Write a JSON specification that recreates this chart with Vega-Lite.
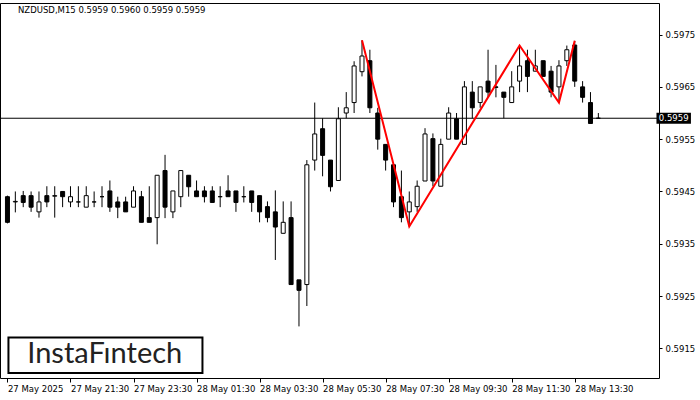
{
  "$schema": "https://vega.github.io/schema/vega-lite/v6.json",
  "width": 659,
  "height": 375,
  "autosize": {"type": "none"},
  "padding": {"left": 0, "top": 3, "right": 41, "bottom": 22},
  "background": "white",
  "config": {"view": {"stroke": "black", "strokeWidth": 1}, "font": "DejaVu Sans"},
  "title": {"text": "NZDUSD,M15  0.5959 0.5960 0.5959 0.5959", "anchor": "start", "frame": "group", "dx": 18, "offset": -11, "baseline": "top", "fontSize": 8.5, "fontWeight": "normal", "font": "DejaVu Sans", "color": "#000000"},
  "datasets": {
    "candles": [
      {"i":0,"o":0.59440,"h":0.59442,"l":0.59389,"c":0.59391},
      {"i":1,"o":0.59430,"h":0.59450,"l":0.59410,"c":0.59431},
      {"i":2,"o":0.59442,"h":0.59451,"l":0.59420,"c":0.59429},
      {"i":3,"o":0.59442,"h":0.59450,"l":0.59411,"c":0.59420},
      {"i":4,"o":0.59411,"h":0.59450,"l":0.59400,"c":0.59430},
      {"i":5,"o":0.59442,"h":0.59460,"l":0.59420,"c":0.59430},
      {"i":6,"o":0.59441,"h":0.59460,"l":0.59400,"c":0.59442},
      {"i":7,"o":0.59450,"h":0.59450,"l":0.59420,"c":0.59440},
      {"i":8,"o":0.59430,"h":0.59460,"l":0.59420,"c":0.59440},
      {"i":9,"o":0.59430,"h":0.59460,"l":0.59420,"c":0.59430},
      {"i":10,"o":0.59420,"h":0.59460,"l":0.59420,"c":0.59442},
      {"i":11,"o":0.59430,"h":0.59450,"l":0.59420,"c":0.59430},
      {"i":12,"o":0.59440,"h":0.59460,"l":0.59420,"c":0.59440},
      {"i":13,"o":0.59451,"h":0.59471,"l":0.59411,"c":0.59420},
      {"i":14,"o":0.59430,"h":0.59440,"l":0.59399,"c":0.59420},
      {"i":15,"o":0.59430,"h":0.59440,"l":0.59411,"c":0.59411},
      {"i":16,"o":0.59420,"h":0.59460,"l":0.59420,"c":0.59451},
      {"i":17,"o":0.59440,"h":0.59451,"l":0.59391,"c":0.59391},
      {"i":18,"o":0.59400,"h":0.59460,"l":0.59391,"c":0.59391},
      {"i":19,"o":0.59400,"h":0.59481,"l":0.59349,"c":0.59481},
      {"i":20,"o":0.59490,"h":0.59520,"l":0.59399,"c":0.59420},
      {"i":21,"o":0.59411,"h":0.59451,"l":0.59399,"c":0.59451},
      {"i":22,"o":0.59440,"h":0.59490,"l":0.59420,"c":0.59490},
      {"i":23,"o":0.59481,"h":0.59481,"l":0.59440,"c":0.59459},
      {"i":24,"o":0.59451,"h":0.59471,"l":0.59440,"c":0.59440},
      {"i":25,"o":0.59451,"h":0.59460,"l":0.59429,"c":0.59440},
      {"i":26,"o":0.59451,"h":0.59460,"l":0.59429,"c":0.59429},
      {"i":27,"o":0.59440,"h":0.59460,"l":0.59420,"c":0.59440},
      {"i":28,"o":0.59451,"h":0.59481,"l":0.59440,"c":0.59440},
      {"i":29,"o":0.59451,"h":0.59451,"l":0.59411,"c":0.59429},
      {"i":30,"o":0.59440,"h":0.59460,"l":0.59429,"c":0.59440},
      {"i":31,"o":0.59451,"h":0.59451,"l":0.59411,"c":0.59429},
      {"i":32,"o":0.59442,"h":0.59442,"l":0.59391,"c":0.59411},
      {"i":33,"o":0.59421,"h":0.59431,"l":0.59391,"c":0.59400},
      {"i":34,"o":0.59411,"h":0.59452,"l":0.59319,"c":0.59382},
      {"i":35,"o":0.59370,"h":0.59431,"l":0.59370,"c":0.59391},
      {"i":36,"o":0.59400,"h":0.59431,"l":0.59272,"c":0.59272},
      {"i":37,"o":0.59281,"h":0.59281,"l":0.59192,"c":0.59261},
      {"i":38,"o":0.59272,"h":0.59510,"l":0.59231,"c":0.59501},
      {"i":39,"o":0.59510,"h":0.59620,"l":0.59490,"c":0.59560},
      {"i":40,"o":0.59570,"h":0.59590,"l":0.59479,"c":0.59519},
      {"i":41,"o":0.59510,"h":0.59510,"l":0.59450,"c":0.59459},
      {"i":42,"o":0.59471,"h":0.59611,"l":0.59471,"c":0.59589},
      {"i":43,"o":0.59600,"h":0.59640,"l":0.59590,"c":0.59610},
      {"i":44,"o":0.59620,"h":0.59699,"l":0.59600,"c":0.59690},
      {"i":45,"o":0.59679,"h":0.59739,"l":0.59670,"c":0.59709},
      {"i":46,"o":0.59700,"h":0.59721,"l":0.59600,"c":0.59610},
      {"i":47,"o":0.59600,"h":0.59610,"l":0.59530,"c":0.59550},
      {"i":48,"o":0.59540,"h":0.59540,"l":0.59490,"c":0.59510},
      {"i":49,"o":0.59501,"h":0.59501,"l":0.59420,"c":0.59430},
      {"i":50,"o":0.59440,"h":0.59490,"l":0.59391,"c":0.59400},
      {"i":51,"o":0.59411,"h":0.59450,"l":0.59382,"c":0.59430},
      {"i":52,"o":0.59421,"h":0.59471,"l":0.59411,"c":0.59460},
      {"i":53,"o":0.59470,"h":0.59571,"l":0.59470,"c":0.59560},
      {"i":54,"o":0.59551,"h":0.59561,"l":0.59460,"c":0.59470},
      {"i":55,"o":0.59460,"h":0.59551,"l":0.59460,"c":0.59540},
      {"i":56,"o":0.59550,"h":0.59611,"l":0.59550,"c":0.59600},
      {"i":57,"o":0.59589,"h":0.59600,"l":0.59550,"c":0.59550},
      {"i":58,"o":0.59540,"h":0.59661,"l":0.59540,"c":0.59650},
      {"i":59,"o":0.59640,"h":0.59661,"l":0.59590,"c":0.59610},
      {"i":60,"o":0.59620,"h":0.59650,"l":0.59610,"c":0.59650},
      {"i":61,"o":0.59661,"h":0.59721,"l":0.59630,"c":0.59640},
      {"i":62,"o":0.59650,"h":0.59692,"l":0.59630,"c":0.59649},
      {"i":63,"o":0.59640,"h":0.59640,"l":0.59590,"c":0.59630},
      {"i":64,"o":0.59620,"h":0.59680,"l":0.59620,"c":0.59650},
      {"i":65,"o":0.59661,"h":0.59729,"l":0.59640,"c":0.59690},
      {"i":66,"o":0.59700,"h":0.59721,"l":0.59640,"c":0.59670},
      {"i":67,"o":0.59680,"h":0.59721,"l":0.59680,"c":0.59690},
      {"i":68,"o":0.59700,"h":0.59700,"l":0.59670,"c":0.59670},
      {"i":69,"o":0.59680,"h":0.59690,"l":0.59630,"c":0.59640},
      {"i":70,"o":0.59650,"h":0.59701,"l":0.59620,"c":0.59690},
      {"i":71,"o":0.59700,"h":0.59729,"l":0.59690,"c":0.59721},
      {"i":72,"o":0.59730,"h":0.59738,"l":0.59650,"c":0.59661},
      {"i":73,"o":0.59650,"h":0.59661,"l":0.59620,"c":0.59630},
      {"i":74,"o":0.59620,"h":0.59640,"l":0.59580,"c":0.59580},
      {"i":75,"o":0.59590,"h":0.59600,"l":0.59590,"c":0.59590}
    ],
    "pattern": [
      {"i":45,"p":0.59739},
      {"i":51,"p":0.59383},
      {"i":65,"p":0.59729},
      {"i":70,"p":0.59620},
      {"i":72,"p":0.59738}
    ],
    "bid": [{"p":0.5959}],
    "logo": [{"name":"InstaFıntech"}]
  },
  "layer": [
    {
      "data": {"name": "candles"},
      "mark": {"type": "rule", "color": "black", "strokeWidth": 1},
      "encoding": {
        "x": {"field": "i", "type": "quantitative",
          "scale": {"domain": [-0.3125, 82.0625], "nice": false, "zero": false},
          "axis": {"values": [0,8,16,24,32,40,48,56,64,72], "title": null, "domain": false, "grid": false,
            "tickSize": 4, "tickColor": "black", "labelAlign": "left", "labelBaseline": "top", "labelPadding": 2,
            "labelFlush": false, "labelOverlap": false, "labelFont": "DejaVu Sans", "labelFontSize": 8.5, "labelColor": "#000000",
            "labelExpr": "['27 May 2025','27 May 21:30','27 May 23:30','28 May 01:30','28 May 03:30','28 May 05:30','28 May 07:30','28 May 09:30','28 May 11:30','28 May 13:30'][round(datum.value/8)]"}},
        "y": {"field": "l", "type": "quantitative",
          "scale": {"domain": [0.591029, 0.598008], "nice": false, "zero": false},
          "axis": {"orient": "right", "values": [0.5915,0.5925,0.5935,0.5945,0.5955,0.5965,0.5975], "format": ".4f", "title": null,
            "domain": false, "grid": false, "tickSize": 3, "tickColor": "black", "labelPadding": 3, "labelFlush": false, "labelOverlap": false,
            "labelFont": "DejaVu Sans", "labelFontSize": 8.5, "labelColor": "#000000"}},
        "y2": {"field": "h"}
      }
    },
    {
      "data": {"name": "candles"},
      "mark": {"type": "bar", "size": 4, "stroke": "black", "strokeWidth": 1},
      "encoding": {
        "x": {"field": "i", "type": "quantitative"},
        "y": {"field": "o", "type": "quantitative"},
        "y2": {"field": "c"},
        "fill": {"condition": {"test": "datum.c >= datum.o", "value": "white"}, "value": "black"}
      }
    },
    {
      "data": {"name": "bid"},
      "mark": {"type": "rule", "color": "black", "strokeWidth": 1},
      "encoding": {"y": {"field": "p", "type": "quantitative"}}
    },
    {
      "data": {"name": "pattern"},
      "mark": {"type": "line", "color": "#ff0000", "strokeWidth": 2},
      "encoding": {
        "x": {"field": "i", "type": "quantitative"},
        "y": {"field": "p", "type": "quantitative"}
      }
    },
    {
      "data": {"name": "bid"},
      "mark": {"type": "bar", "size": 11, "color": "black", "clip": false},
      "encoding": {
        "x": {"datum": 82.375, "type": "quantitative"},
        "x2": {"datum": 86.75},
        "y": {"field": "p", "type": "quantitative"}
      }
    },
    {
      "data": {"name": "bid"},
      "mark": {"type": "text", "color": "white", "align": "center", "baseline": "middle", "font": "DejaVu Sans", "fontSize": 8.5, "clip": false},
      "encoding": {
        "x": {"datum": 84.56, "type": "quantitative"},
        "y": {"field": "p", "type": "quantitative"},
        "text": {"field": "p", "format": ".4f"}
      }
    },
    {
      "data": {"name": "logo"},
      "mark": {"type": "rect", "fill": "white", "stroke": "black", "strokeWidth": 2, "clip": false},
      "encoding": {
        "x": {"datum": 0.125, "type": "quantitative"},
        "x2": {"datum": 24.75},
        "y": {"datum": 0.591708, "type": "quantitative"},
        "y2": {"datum": 0.591030}
      }
    },
    {
      "data": {"name": "logo"},
      "mark": {"type": "text", "color": "#222222", "align": "center", "baseline": "alphabetic", "font": "Lato", "fontSize": 29},
      "encoding": {
        "x": {"datum": 12.35, "type": "quantitative"},
        "y": {"datum": 0.591215, "type": "quantitative"},
        "text": {"field": "name"}
      }
    }
  ]
}
